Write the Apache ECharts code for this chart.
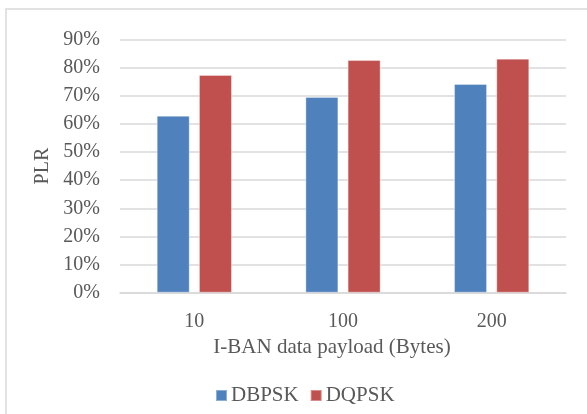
<!DOCTYPE html>
<html>
<head>
<meta charset="utf-8">
<script src="https://cdn.jsdelivr.net/npm/echarts@6/dist/echarts.min.js"></script>
<style>
  html, body { margin: 0; padding: 0; background: #fff; }
  #chart { width: 587px; height: 414px; }
</style>
</head>
<body>
<div id="chart"></div>
<script>
// Payload sizes on the x axis
const categories = ['10', '100', '200'];
// Packet loss ratio per modulation scheme (fraction)
const dbpsk = [0.629, 0.696, 0.742];
const dqpsk = [0.774, 0.827, 0.832];
// Y axis ticks
const yMin = 0;
const yMax = 0.9;
const yStep = 0.1;

const textColor = '#595959';
const font = 'Liberation Serif';

const chart = echarts.init(document.getElementById('chart'), null, { renderer: 'canvas' });
chart.setOption({
  backgroundColor: '#fff',
  animation: false,
  graphic: [{
    type: 'rect',
    shape: { x: 6, y: 9, width: 600, height: 420 },
    style: { fill: 'none', stroke: '#d9d9d9', lineWidth: 1.5 },
    silent: true,
    z: 0
  }],
  grid: { left: 120, right: 21, top: 39.5, bottom: 121.3 },
  legend: {
    left: 210,
    top: 380,
    itemWidth: 11,
    itemHeight: 11,
    itemGap: 11,
    icon: 'rect',
    textStyle: { fontFamily: font, fontSize: 21, color: textColor, padding: [0, 0, 0, -1] },
    data: ['DBPSK', 'DQPSK']
  },
  xAxis: {
    type: 'category',
    data: categories,
    name: 'I-BAN data payload (Bytes)',
    nameLocation: 'middle',
    nameGap: 41,
    nameTextStyle: { fontFamily: font, fontSize: 21, color: textColor, padding: [0, 22, 0, 0] },
    axisLine: { show: true, lineStyle: { color: '#d9d9d9', width: 1.5 } },
    axisTick: { show: false },
    axisLabel: { fontFamily: font, fontSize: 20, color: textColor, margin: 19 }
  },
  yAxis: {
    type: 'value',
    min: yMin,
    max: yMax,
    interval: yStep,
    name: 'PLR',
    nameLocation: 'middle',
    nameGap: 66,
    nameRotate: 90,
    nameTextStyle: { fontFamily: font, fontSize: 20, color: textColor },
    axisLine: { show: false },
    axisTick: { show: false },
    splitLine: { lineStyle: { color: '#d9d9d9', width: 1.5 } },
    axisLabel: {
      fontFamily: font, fontSize: 20, color: textColor, margin: 20,
      formatter: v => Math.round(v * 100) + '%'
    }
  },
  series: [
    {
      name: 'DBPSK',
      type: 'bar',
      data: dbpsk,
      barWidth: 33,
      barGap: '28%',
      itemStyle: { color: '#4F81BD', borderColor: 'rgba(255,255,255,0.35)', borderWidth: 1 }
    },
    {
      name: 'DQPSK',
      type: 'bar',
      data: dqpsk,
      barWidth: 33,
      itemStyle: { color: '#C0504D', borderColor: 'rgba(255,255,255,0.35)', borderWidth: 1 }
    }
  ]
});
</script>
</body>
</html>
